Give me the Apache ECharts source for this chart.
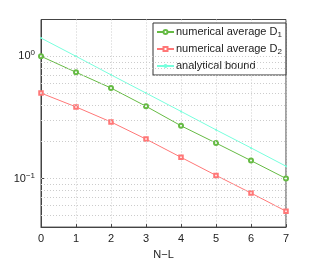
<!DOCTYPE html>
<html><head><meta charset="utf-8">
<script src="https://cdn.jsdelivr.net/npm/echarts@6/dist/echarts.min.js"></script>
<style>html,body{margin:0;padding:0;background:#fff}#c{width:316px;height:265px}</style>
</head><body><div id="c"></div>
<script>
var categories = [0, 1, 2, 3, 4, 5, 6, 7];
var d1Values = [1.0, 0.74, 0.55, 0.39, 0.27, 0.195, 0.14, 0.1];
var d2Values = [0.5, 0.385, 0.29, 0.21, 0.149, 0.106, 0.076, 0.054];
var boundValues = [1.41, 1.0, 0.705, 0.5, 0.354, 0.25, 0.178, 0.126];
var gridValues = [0.05, 0.06, 0.07, 0.08, 0.09, 0.1, 0.2, 0.3, 0.4, 0.5, 0.6, 0.7, 0.8, 0.9, 1];
var seriesNames = ['numerical average D{sub|1}', 'numerical average D{sub|2}', 'analytical bound'];

function pairs(v){ return categories.map(function(x,i){ return [x, v[i]]; }); }
var font = 'Liberation Sans, Arial, sans-serif';
var chart = echarts.init(document.getElementById('c'), null, {renderer:'canvas'});
chart.setOption({
  animation: false,
  grid: {left: 41, right: 30, top: 19.5, bottom: 30, show: true, borderColor: '#444', borderWidth: 1, backgroundColor: 'transparent'},
  legend: {
    orient: 'vertical', left: 153, top: 23, width: 131,
    backgroundColor: '#fff', borderColor: '#333', borderWidth: 1,
    padding: [2, 4, 2, 3], itemGap: 3, itemWidth: 17, itemHeight: 5,
    textStyle: {fontFamily: font, fontSize: 11, color: '#222', lineHeight: 14, padding: [0,0,0,-3],
      rich: {sub: {fontSize: 8, fontFamily: font, color: '#222', lineHeight: 14, verticalAlign: 'bottom', padding: [5,0,0,0]}}},
    data: seriesNames
  },
  xAxis: {
    type: 'value', min: 0, max: 7, interval: 1,
    name: 'N\u2212L', nameLocation: 'middle', nameGap: 21,
    nameTextStyle: {fontFamily: font, fontSize: 11, color: '#222'},
    axisLine: {lineStyle: {color: '#444'}},
    axisTick: {inside: true, length: 3, lineStyle: {color: '#444'}},
    axisLabel: {fontFamily: font, fontSize: 11, color: '#222', margin: 6},
    splitLine: {show: true, lineStyle: {color: '#ccc', type: [1, 2]}}
  },
  yAxis: {
    type: 'log', logBase: 10, min: 0.04, max: 2,
    axisLine: {lineStyle: {color: '#444'}},
    axisTick: {inside: true, length: 3, lineStyle: {color: '#444'}},
    splitLine: {show: false},
    axisLabel: {
      fontFamily: font, fontSize: 11, color: '#222', margin: 6,
      formatter: function(v){
        var e = Math.log10(v), r = Math.round(e);
        if (Math.abs(e - r) > 1e-6) return '';
        return '10{sup|' + (r < 0 ? '\u2212' + (-r) : r) + '}';
      },
      rich: {sup: {fontSize: 8, fontFamily: font, color: '#222', verticalAlign: 'top', padding: [0,0,6,0]}}
    }
  },
  series: [
    {name: seriesNames[0], type: 'line', data: pairs(d1Values), symbol: 'emptyCircle', symbolSize: 4,
     itemStyle: {color: '#66bb44'}, lineStyle: {width: 1, color: '#66bb44'}, z: 3,
     markLine: {silent: true, symbol: 'none', label: {show: false},
       lineStyle: {color: '#ccc', type: [1, 2], width: 1},
       data: gridValues.map(function(g){ return {yAxis: g}; })}},
    {name: seriesNames[1], type: 'line', data: pairs(d2Values), symbol: 'emptyRect', symbolSize: 3.5,
     itemStyle: {color: '#ff7777'}, lineStyle: {width: 1, color: '#ff7777'}, z: 3},
    {name: seriesNames[2], type: 'line', data: pairs(boundValues), symbol: 'circle', symbolSize: 2,
     itemStyle: {color: '#77ffdd'}, lineStyle: {width: 1, color: '#77ffdd'}, z: 3}
  ]
});
</script></body></html>
